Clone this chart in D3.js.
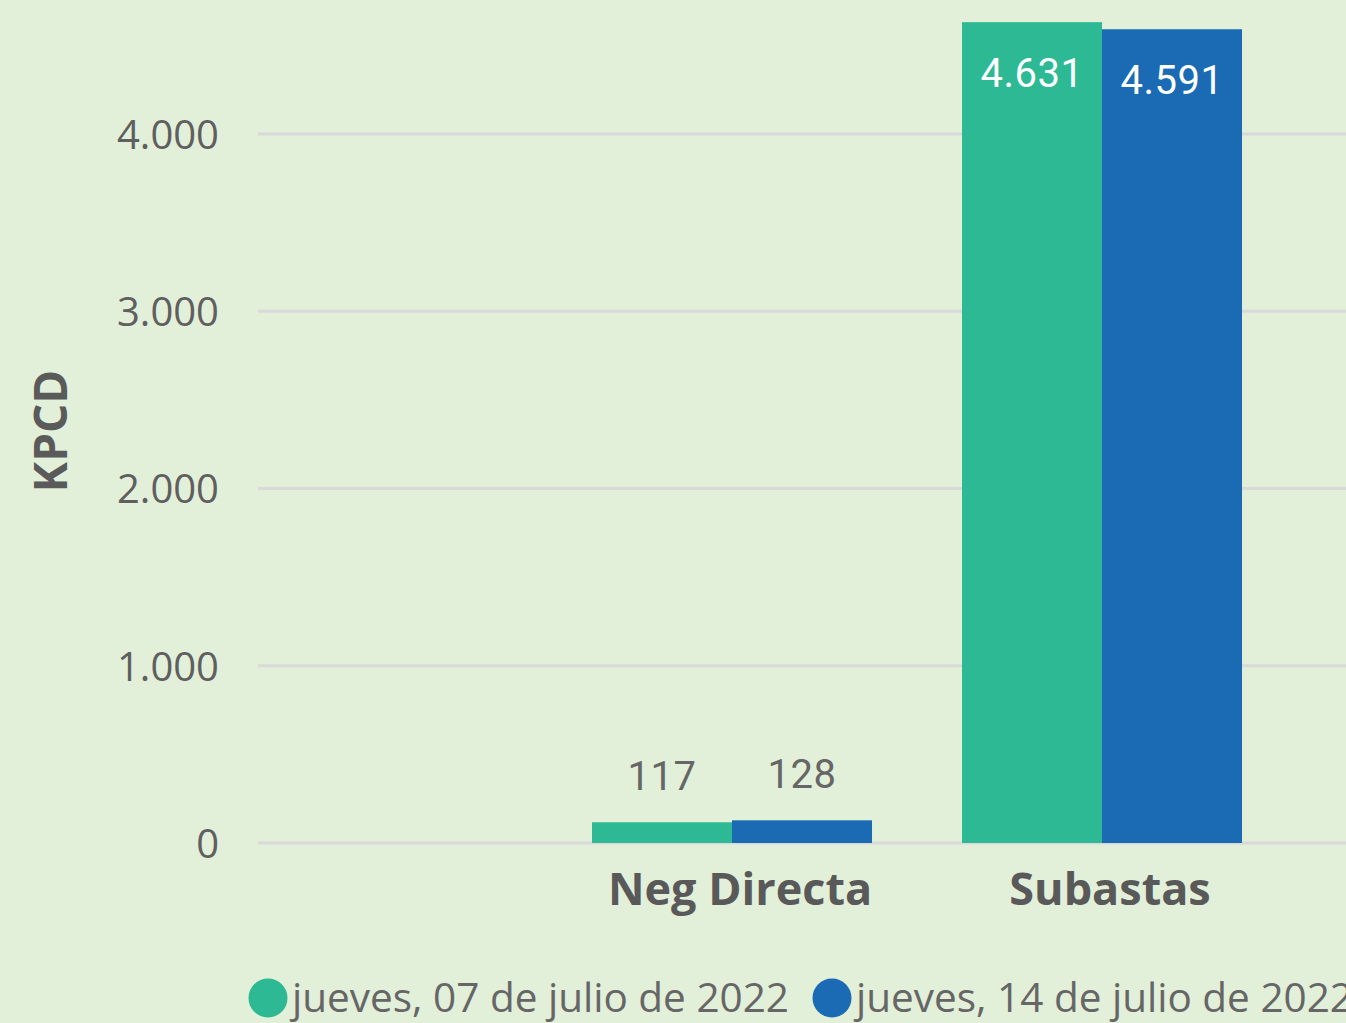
<!DOCTYPE html>
<html><head><meta charset="utf-8">
<script src="https://cdn.jsdelivr.net/npm/d3@7"></script>
<style>
html,body{margin:0;padding:0;background:#E2EFD9;}
svg{display:block;}
</style></head>
<body>
<svg id="chart" width="1346" height="1023"></svg>
<script>
const categories = ["Neg Directa", "Subastas"];
const seriesNames = ["jueves, 07 de julio de 2022", "jueves, 14 de julio de 2022"];
const series1 = [117, 4631];
const series2 = [128, 4591];
const yTicks = [0, 1000, 2000, 3000, 4000];
const yTickLabels = ["0", "1.000", "2.000", "3.000", "4.000"];
const colors = ["#2CB994", "#1A6BB3"];

const svg = d3.select("#chart");
svg.append("rect").attr("width",1346).attr("height",1023).attr("fill","#E2EFD9");

const y = d3.scaleLinear().domain([0, 4000]).range([843, 134]);
const x = d3.scaleBand().domain(categories).range([547, 1287]).paddingInner(0.2432).paddingOuter(0.1216);
const xs = d3.scaleBand().domain(seriesNames).range([0, x.bandwidth()]);

// grid
svg.append("g").selectAll("line").data(yTicks).join("line")
  .attr("x1", 258).attr("x2", 1346)
  .attr("y1", d => y(d)).attr("y2", d => y(d))
  .attr("stroke", "#D9D9D9").attr("stroke-width", 3);

// y tick labels
const yAxis = d3.axisLeft(y).tickValues(yTicks).tickFormat((d,i)=>yTickLabels[i]).tickSize(0).tickPadding(0);
const gy = svg.append("g").attr("transform","translate(219,0)").call(yAxis);
gy.select(".domain").remove();
gy.selectAll("text").attr("font-family","'Open Sans', 'Noto Sans', sans-serif")
  .attr("font-size", 40).attr("fill","#5F5F5F").attr("dy","0.36em");

// y title
svg.append("text").attr("transform","translate(67,431) rotate(-90)")
  .attr("text-anchor","middle").attr("font-family","'Open Sans', sans-serif")
  .attr("font-weight","bold").attr("font-size",46).attr("fill","#5A5A5A").text("KPCD");

const data = categories.map((c,i)=>({cat:c, vals:[series1[i], series2[i]]}));

const groups = svg.append("g").selectAll("g").data(data).join("g")
  .attr("transform", d => `translate(${x(d.cat)},0)`);

groups.selectAll("rect").data(d => d.vals.map((v,j)=>({v, s:seriesNames[j], j})))
  .join("rect")
  .attr("x", d => xs(d.s)).attr("width", xs.bandwidth())
  .attr("y", d => y(d.v)).attr("height", d => y(0) - y(d.v))
  .attr("fill", d => colors[d.j]);

const fmt = v => d3.format(",")(v).replace(/,/g, ".");
groups.selectAll("text.lbl").data(d => d.vals.map((v,j)=>({v, s:seriesNames[j], j})))
  .join("text").attr("class","lbl")
  .attr("x", d => xs(d.s) + xs.bandwidth()/2)
  .attr("y", d => d.v > 1000 ? y(d.v) + 65 : y(d.v) - 32)
  .attr("text-anchor","middle")
  .attr("font-family","Roboto, 'DejaVu Sans', sans-serif")
  .attr("font-size", 40)
  .attr("letter-spacing", 0.5)
  .attr("fill", d => d.v > 1000 ? "#FFFFFF" : "#666666")
  .text(d => fmt(d.v));

// x labels
const xAxis = d3.axisBottom(x).tickSize(0).tickPadding(0);
const gx = svg.append("g").attr("transform","translate(8,905)").call(xAxis);
gx.select(".domain").remove();
gx.selectAll("text").attr("font-family","'Open Sans', sans-serif").attr("font-weight","bold")
  .attr("font-size",45).attr("fill","#595959").attr("dy","0");

// legend
const legendX = [268, 832];
const lg = svg.append("g").selectAll("g").data(seriesNames).join("g")
  .attr("transform", (d,i)=>`translate(${legendX[i]},998)`);
lg.append("circle").attr("r",19.5).attr("fill",(d,i)=>colors[i]);
lg.append("text").attr("x",24).attr("y",14)
  .attr("font-family","'Open Sans', sans-serif").attr("font-size",40.5).attr("fill","#666666")
  .text(d=>d);
</script>
</body></html>
